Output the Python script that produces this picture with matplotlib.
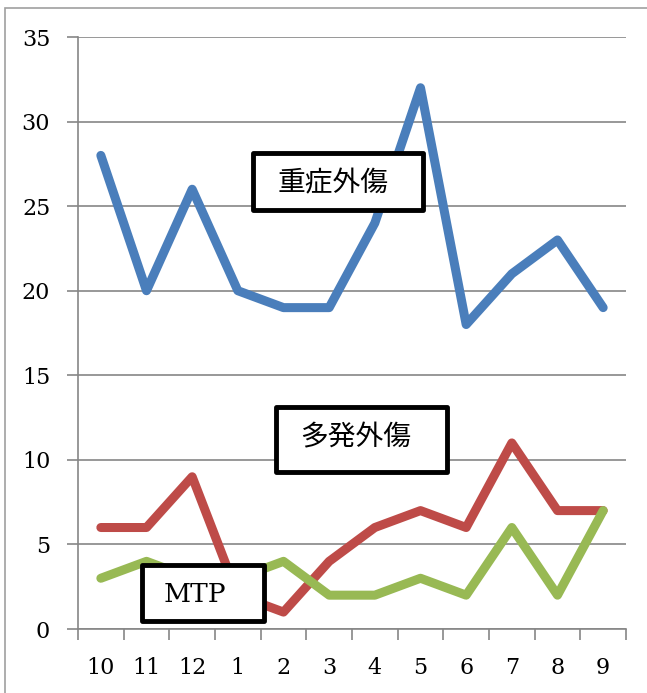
import matplotlib.pyplot as plt
from matplotlib.patches import Rectangle
from matplotlib.ticker import FixedLocator

months = ["10", "11", "12", "1", "2", "3", "4", "5", "6", "7", "8", "9"]
severe = [28, 20, 26, 20, 19, 19, 24, 32, 18, 21, 23, 19]   # 重症外傷
multiple = [6, 6, 9, 2, 1, 4, 6, 7, 6, 11, 7, 7]            # 多発外傷
mtp = [3, 4, 3, 3, 4, 2, 2, 3, 2, 6, 2, 7]                  # MTP

W, H = 647, 693
fig = plt.figure(figsize=(W / 100, H / 100), dpi=100)
ax = fig.add_axes([78 / W, 1 - 629 / H, (626 - 78) / W, (629 - 37) / H])

# outer chart frame (cut off at right and bottom like the original)
fig.patches.append(Rectangle((5 / W, -0.1), 1.2, 1 - 8 / H + 0.1, transform=fig.transFigure,
                             fill=False, edgecolor="#a0a0a0", linewidth=1.2))

x = list(range(len(months)))
lw = 6.5
ax.plot(x, severe, color="#4a7ebb", lw=lw, solid_joinstyle="round", solid_capstyle="round", zorder=3)
ax.plot(x, multiple, color="#be4b48", lw=lw, solid_joinstyle="round", solid_capstyle="round", zorder=3)
ax.plot(x, mtp, color="#98b954", lw=lw, solid_joinstyle="round", solid_capstyle="round", zorder=3)

ax.set_xlim(-0.5, len(months) - 0.5)
ax.set_ylim(0, 35)
ax.set_yticks(range(0, 36, 5))
ax.set_xticks(x)
ax.set_xticklabels(months)
ax.xaxis.set_minor_locator(FixedLocator([i - 0.5 for i in range(len(months) + 1)]))

serif = "DejaVu Serif"
for lab in ax.get_xticklabels() + ax.get_yticklabels():
    lab.set_fontfamily(serif)
    lab.set_fontsize(16)

ax.tick_params(axis="x", which="major", length=0, pad=20)
ax.tick_params(axis="x", which="minor", length=8, width=1.2, color="#868686", direction="out")
ax.tick_params(axis="y", length=8, width=1.2, color="#868686", direction="out", pad=12)

ax.grid(axis="y", color="#868686", linewidth=1.2)
ax.set_axisbelow(True)
for side in ["top", "right"]:
    ax.spines[side].set_visible(False)
for side in ["left", "bottom"]:
    ax.spines[side].set_color("#868686")
    ax.spines[side].set_linewidth(1.2)


def px_to_axes(px, py):
    return (px - 78) / (626 - 78), (629 - py) / (629 - 37)


# labelled boxes, pixel coordinates from the original
boxes = [
    ("重症外傷", (253, 153, 423, 210), (333, 183), ["Noto Sans CJK JP"], 20),
    ("多発外傷", (276, 407, 447, 472), (356, 437), ["Noto Sans CJK JP"], 20),
    ("MTP", (142, 565, 264, 621), (195, 594), [serif], 19),
]
for label, (x0, y0, x1, y1), (tx, ty), fam, fs in boxes:
    ax0, ay0 = px_to_axes(x0, y1)
    ax1, ay1 = px_to_axes(x1, y0)
    ax.add_patch(Rectangle((ax0, ay0), ax1 - ax0, ay1 - ay0, transform=ax.transAxes,
                           facecolor="white", edgecolor="black", linewidth=3.5,
                           joinstyle="round", zorder=5, clip_on=False))
    cx, cy = px_to_axes(tx, ty)
    ax.text(cx, cy, label, transform=ax.transAxes, ha="center", va="center",
            fontsize=fs, family=fam, zorder=6)

fig.savefig("out.png", dpi=100)
